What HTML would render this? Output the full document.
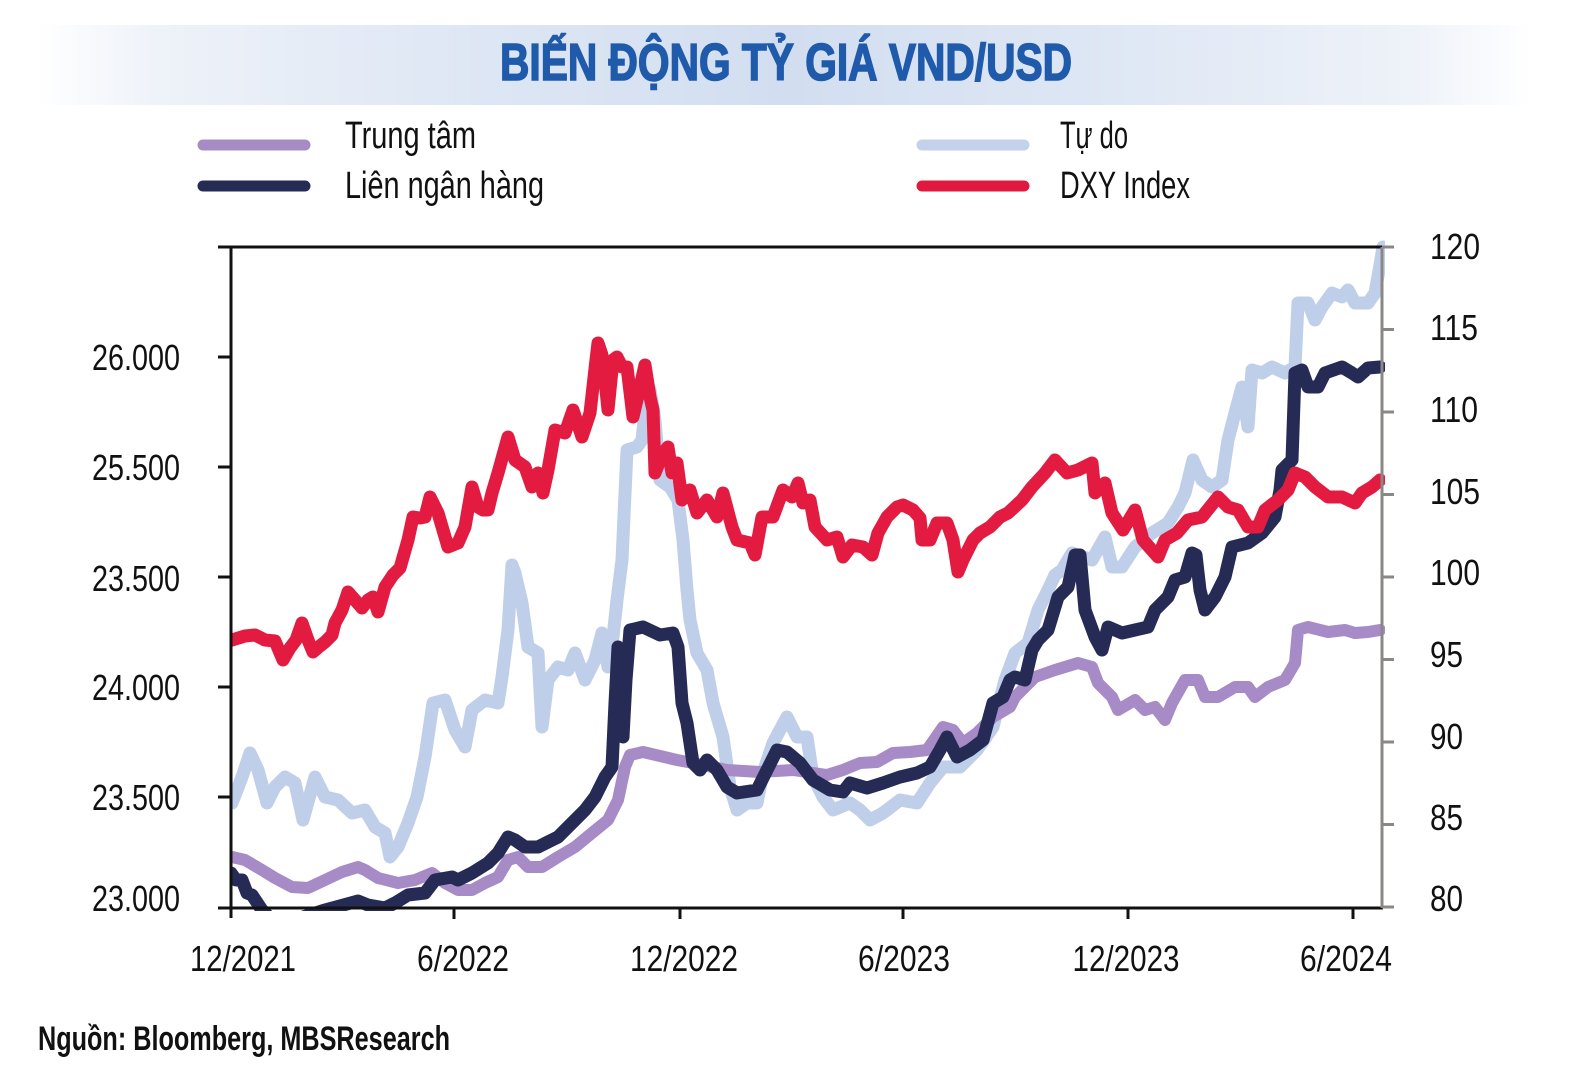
<!DOCTYPE html>
<html>
<head>
<meta charset="utf-8">
<style>
html,body{margin:0;padding:0;background:#fff;}
#wrap{position:relative;width:1572px;height:1085px;overflow:hidden;background:#fff;}
#band{position:absolute;left:38px;top:25px;width:1494px;height:80px;
background:linear-gradient(to right,#ffffff 0%,#eef2f9 8%,#dde6f4 30%,#d2def0 50%,#dde6f4 70%,#eef2f9 92%,#ffffff 100%);}
svg{position:absolute;left:0;top:0;}
text{font-family:"Liberation Sans Narrow","Liberation Sans",sans-serif;fill:#111;}
</style>
</head>
<body>
<div id="wrap">
<div id="band"></div>
<svg width="1572" height="1085" viewBox="0 0 1572 1085" xmlns="http://www.w3.org/2000/svg">
  <defs>
    <clipPath id="pc"><rect x="230" y="240" width="1155" height="671"/></clipPath>
  </defs>
  <!-- Title -->
  <text x="500" y="80" font-size="52" font-weight="bold" style="fill:#1f5aab;stroke:#1f5aab;stroke-width:1.6" textLength="572" lengthAdjust="spacingAndGlyphs">BIẾN ĐỘNG TỶ GIÁ VND/USD</text>

  <!-- Legend -->
  <line x1="203" y1="145" x2="305" y2="145" stroke="#a58cc4" stroke-width="11" stroke-linecap="round"/>
  <line x1="203" y1="186" x2="305" y2="186" stroke="#262b55" stroke-width="11" stroke-linecap="round"/>
  <line x1="922" y1="145" x2="1024" y2="145" stroke="#c3d2ea" stroke-width="11" stroke-linecap="round"/>
  <line x1="922" y1="186" x2="1024" y2="186" stroke="#e0193f" stroke-width="11" stroke-linecap="round"/>
  <text x="345" y="148" font-size="38" textLength="131" lengthAdjust="spacingAndGlyphs">Trung tâm</text>
  <text x="345" y="198" font-size="38" textLength="199" lengthAdjust="spacingAndGlyphs">Liên ngân hàng</text>
  <text x="1060" y="148" font-size="38" textLength="68" lengthAdjust="spacingAndGlyphs">Tự do</text>
  <text x="1060" y="198" font-size="38" textLength="130" lengthAdjust="spacingAndGlyphs">DXY Index</text>

  <!-- Series -->
  <g clip-path="url(#pc)" fill="none" stroke-linejoin="round" stroke-linecap="round">
    <polyline stroke="#bfcfe9" stroke-width="13" points="232,803 242,777 250,753 258,770 267,803 275,787 285,777 295,783 303,820 315,777 325,797 338,800 352,813 365,810 375,827 385,833 390,857 398,847 408,823 417,797 425,757 433,703 445,700 455,730 465,747 472,710 485,700 498,703 502,677 508,630 512,565 515,573 522,603 528,647 538,653 542,727 548,680 558,667 568,670 575,653 585,680 595,660 602,633 608,667 613,637 617,600 622,560 627,450 637,447 642,440 646,400 650,390 655,420 660,480 670,487 678,500 683,540 687,590 690,620 697,653 707,670 713,703 723,737 730,787 737,810 747,803 757,803 763,773 773,743 787,717 797,737 807,737 813,777 823,797 833,810 850,803 860,810 870,820 883,813 900,800 917,803 930,783 943,767 960,767 977,750 993,727 1005,680 1015,653 1028,643 1038,610 1048,590 1055,575 1062,570 1072,553 1092,560 1105,537 1112,567 1122,567 1135,547 1152,533 1168,523 1178,507 1185,493 1193,460 1202,480 1212,487 1222,480 1228,440 1235,413 1242,387 1248,427 1252,370 1262,373 1272,367 1285,373 1295,367 1298,303 1308,303 1315,320 1322,307 1332,293 1342,297 1348,290 1355,303 1368,303 1375,293 1380,265 1383,247"/>
    <polyline stroke="#a68bc6" stroke-width="12" points="232,857 245,860 262,870 275,878 292,887 308,888 325,880 342,872 358,867 365,870 378,878 398,883 415,880 432,873 445,883 458,890 472,890 485,883 498,877 508,860 518,857 528,867 542,867 558,857 575,847 592,833 608,820 618,800 625,767 630,755 643,752 677,760 693,763 727,770 760,772 793,770 827,775 843,770 860,763 877,762 893,753 910,752 927,750 943,727 953,730 963,743 977,733 993,717 1010,707 1015,697 1035,677 1055,670 1078,663 1092,667 1098,683 1112,697 1118,710 1135,700 1145,710 1155,707 1165,720 1172,703 1185,680 1198,680 1205,697 1218,697 1235,687 1248,687 1255,697 1268,687 1285,680 1295,663 1298,630 1308,627 1328,632 1345,630 1355,633 1368,632 1380,630"/>
    <polyline stroke="#262b55" stroke-width="13" points="231,873 236,880 242,880 247,893 252,895 262,910 270,918 300,918 325,910 358,901 368,905 385,908 395,903 408,895 425,893 435,880 452,877 458,880 472,873 488,863 498,853 508,837 515,840 525,847 538,847 548,842 558,837 572,823 585,810 595,797 605,777 612,767 615,703 618,647 620,700 623,737 626,680 630,630 643,627 660,635 673,633 678,647 682,703 687,723 693,763 700,770 707,760 717,770 727,787 737,793 757,790 767,770 777,750 787,752 800,763 813,780 830,790 843,792 850,783 867,788 883,783 900,777 917,773 930,767 940,750 947,737 957,757 970,750 983,740 993,703 1003,697 1010,680 1015,677 1025,680 1032,650 1038,640 1048,630 1058,597 1068,587 1075,555 1080,555 1085,610 1095,637 1102,650 1108,627 1122,633 1135,630 1148,627 1155,610 1162,603 1168,597 1175,580 1185,577 1192,553 1196,555 1200,590 1205,610 1215,597 1225,577 1232,547 1248,543 1262,533 1275,517 1280,490 1282,470 1292,460 1295,373 1302,370 1308,387 1318,387 1325,373 1342,367 1352,373 1358,377 1368,368 1380,367"/>
    <polyline stroke="#e31b40" stroke-width="13" points="232,640 245,636 255,635 265,640 275,641 283,660 290,648 296,640 302,623 308,640 313,652 320,646 325,642 332,635 335,623 342,610 348,592 355,600 362,608 368,600 373,597 378,612 385,587 393,575 400,568 408,540 413,517 420,518 425,517 430,497 438,513 443,530 448,547 458,543 465,527 472,487 478,507 483,510 488,510 492,493 498,473 508,437 515,460 525,467 532,487 538,473 543,493 548,470 555,430 565,433 573,410 582,437 590,413 596,360 598,343 602,355 605,380 608,410 613,360 617,357 622,367 627,367 633,417 640,387 645,365 650,397 653,410 655,473 663,453 668,447 672,473 677,463 682,500 690,490 697,513 707,500 717,517 723,493 732,527 737,540 750,543 755,555 762,517 773,517 783,490 792,497 798,483 803,503 810,500 815,527 827,540 837,537 843,557 852,545 863,547 872,555 878,533 887,517 897,507 903,505 913,510 920,518 922,540 930,540 937,523 947,523 953,540 958,572 963,560 973,540 980,533 990,527 1000,517 1008,513 1022,500 1032,487 1045,473 1055,460 1067,473 1078,470 1092,463 1095,493 1105,483 1112,513 1123,530 1135,510 1143,540 1158,557 1165,540 1177,533 1188,520 1202,517 1218,497 1228,507 1238,510 1248,527 1258,527 1265,510 1278,500 1288,490 1295,473 1305,477 1315,487 1328,497 1342,497 1355,503 1362,493 1372,487 1380,480"/>
  </g>

  <!-- Axes -->
  <line x1="218" y1="247" x2="1383" y2="247" stroke="#111" stroke-width="3"/>
  <line x1="218" y1="908" x2="1383" y2="908" stroke="#111" stroke-width="3"/>
  <line x1="231" y1="246" x2="231" y2="918" stroke="#111" stroke-width="3"/>
  <line x1="1382" y1="247" x2="1382" y2="908" stroke="#8a8785" stroke-width="3"/>
  <g stroke="#111" stroke-width="3">
    <line x1="218" y1="357" x2="231" y2="357"/>
    <line x1="218" y1="467" x2="231" y2="467"/>
    <line x1="218" y1="577" x2="231" y2="577"/>
    <line x1="218" y1="687" x2="231" y2="687"/>
    <line x1="218" y1="797" x2="231" y2="797"/>
    <line x1="454" y1="908" x2="454" y2="919"/>
    <line x1="680" y1="908" x2="680" y2="919"/>
    <line x1="903" y1="908" x2="903" y2="919"/>
    <line x1="1128" y1="908" x2="1128" y2="919"/>
    <line x1="1353" y1="908" x2="1353" y2="919"/>
  </g>
  <g stroke="#8a8785" stroke-width="3">
    <line x1="1382" y1="247" x2="1394" y2="247"/>
    <line x1="1382" y1="329.5" x2="1394" y2="329.5"/>
    <line x1="1382" y1="412" x2="1394" y2="412"/>
    <line x1="1382" y1="494.5" x2="1394" y2="494.5"/>
    <line x1="1382" y1="577" x2="1394" y2="577"/>
    <line x1="1382" y1="659.5" x2="1394" y2="659.5"/>
    <line x1="1382" y1="742" x2="1394" y2="742"/>
    <line x1="1382" y1="824.5" x2="1394" y2="824.5"/>
    <line x1="1382" y1="907" x2="1394" y2="907"/>
  </g>

  <!-- Left labels -->
  <g font-size="36" text-anchor="end">
    <text x="180" y="370" textLength="88" lengthAdjust="spacingAndGlyphs">26.000</text>
    <text x="180" y="480" textLength="88" lengthAdjust="spacingAndGlyphs">25.500</text>
    <text x="180" y="591" textLength="88" lengthAdjust="spacingAndGlyphs">23.500</text>
    <text x="180" y="700" textLength="88" lengthAdjust="spacingAndGlyphs">24.000</text>
    <text x="180" y="810" textLength="88" lengthAdjust="spacingAndGlyphs">23.500</text>
    <text x="180" y="911" textLength="88" lengthAdjust="spacingAndGlyphs">23.000</text>
  </g>

  <!-- Right labels -->
  <g font-size="36">
    <text x="1430" y="259" textLength="50" lengthAdjust="spacingAndGlyphs">120</text>
    <text x="1430" y="340" textLength="48" lengthAdjust="spacingAndGlyphs">115</text>
    <text x="1430" y="422" textLength="48" lengthAdjust="spacingAndGlyphs">110</text>
    <text x="1430" y="504" textLength="50" lengthAdjust="spacingAndGlyphs">105</text>
    <text x="1430" y="585" textLength="50" lengthAdjust="spacingAndGlyphs">100</text>
    <text x="1430" y="667" textLength="33" lengthAdjust="spacingAndGlyphs">95</text>
    <text x="1430" y="749" textLength="33" lengthAdjust="spacingAndGlyphs">90</text>
    <text x="1430" y="830" textLength="33" lengthAdjust="spacingAndGlyphs">85</text>
    <text x="1430" y="911" textLength="33" lengthAdjust="spacingAndGlyphs">80</text>
  </g>

  <!-- X labels -->
  <g font-size="36" text-anchor="middle">
    <text x="243" y="971" textLength="106" lengthAdjust="spacingAndGlyphs">12/2021</text>
    <text x="463" y="971" textLength="92" lengthAdjust="spacingAndGlyphs">6/2022</text>
    <text x="684" y="971" textLength="108" lengthAdjust="spacingAndGlyphs">12/2022</text>
    <text x="904" y="971" textLength="92" lengthAdjust="spacingAndGlyphs">6/2023</text>
    <text x="1126" y="971" textLength="107" lengthAdjust="spacingAndGlyphs">12/2023</text>
    <text x="1346" y="971" textLength="92" lengthAdjust="spacingAndGlyphs">6/2024</text>
  </g>

  <!-- Footer -->
  <text x="38" y="1050" font-size="34" font-weight="bold" textLength="412" lengthAdjust="spacingAndGlyphs">Nguồn: Bloomberg, MBSResearch</text>
</svg>
</div>
</body>
</html>
